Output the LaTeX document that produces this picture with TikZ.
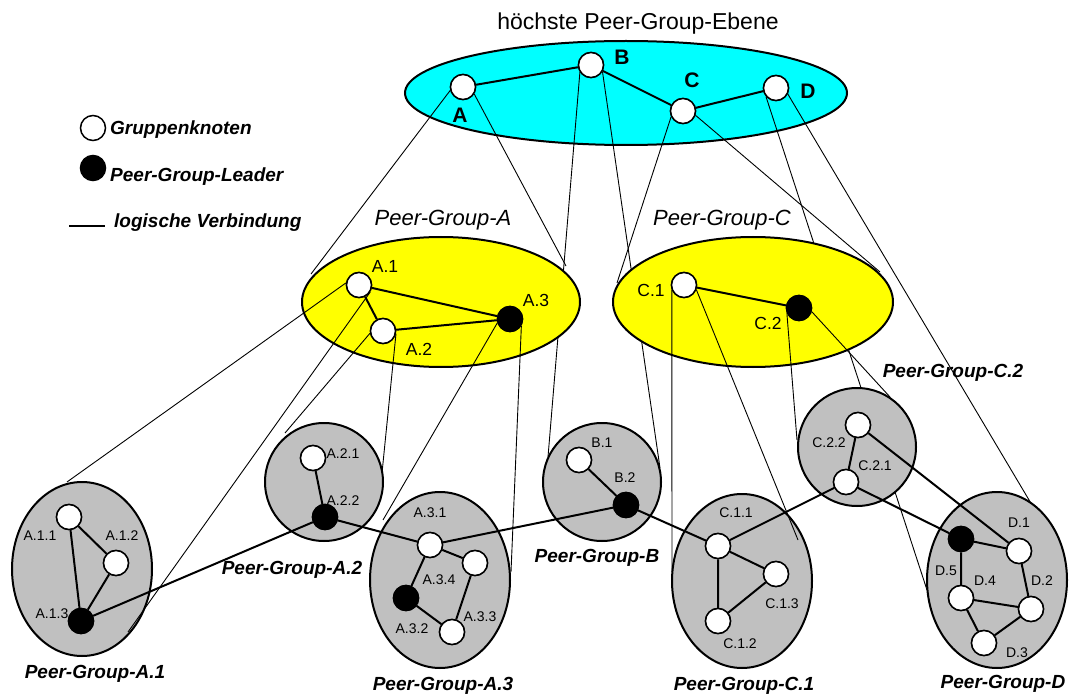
\documentclass[tikz,border=0pt]{standalone}
\usepackage{fontspec}
\setmainfont{Liberation Sans}
\usetikzlibrary{shapes.geometric}
\definecolor{cyanfill}{RGB}{0,255,255}
\definecolor{yelfill}{RGB}{255,255,0}
\definecolor{grayfill}{RGB}{192,192,192}
\pgfdeclarelayer{cyanL}
\pgfdeclarelayer{topL}
\pgfdeclarelayer{yelL}
\pgfdeclarelayer{grayL}
\pgfdeclarelayer{ylnL}
\pgfsetlayers{cyanL,topL,yelL,grayL,ylnL,main}
\begin{document}
\begin{tikzpicture}[x=1pt,y=-1pt,
  wn/.style={circle,draw,fill=white,line width=1.5pt,minimum size=25pt,inner sep=0pt},
  bn/.style={wn,fill=black},
  grp/.style={ellipse,draw,line width=2pt,inner sep=0pt},
  thinln/.style={line width=0.9pt},
  edge/.style={line width=2pt},
  ttl/.style={anchor=base,inner sep=0pt,font=\fontsize{23}{27}\selectfont},
  lbT/.style={anchor=base,inner sep=0pt,font=\fontsize{21}{25}\selectfont\bfseries},
  lbY/.style={anchor=base,inner sep=0pt,font=\fontsize{17.5}{21}\selectfont},
  lbYI/.style={anchor=base,inner sep=0pt,font=\fontsize{22}{26}\selectfont\itshape},
  lbG/.style={anchor=base,inner sep=0pt,font=\fontsize{14}{17}\selectfont},
  lbP/.style={anchor=base,inner sep=0pt,font=\fontsize{19}{23}\selectfont\bfseries\itshape},
  lbL/.style={lbP,anchor=base west}
]
\useasboundingbox (0,0) rectangle (1069,695);

% group ellipses
\begin{pgfonlayer}{cyanL}
\node[grp,fill=cyanfill,minimum width=442pt,minimum height=104pt] (eTop) at (626,93) {};
\end{pgfonlayer}
\begin{pgfonlayer}{yelL}
\node[grp,fill=yelfill,minimum width=278pt,minimum height=130pt] (eA) at (441,302) {};
\node[grp,fill=yelfill,minimum width=280pt,minimum height=130pt] (eC) at (753,302) {};
\end{pgfonlayer}
\begin{pgfonlayer}{grayL}
\node[grp,fill=grayfill,minimum width=140pt,minimum height=174pt] (gA1) at (82,569) {};
\node[grp,fill=grayfill,minimum width=118pt,minimum height=118pt] (gA2) at (324,482) {};
\node[grp,fill=grayfill,minimum width=140pt,minimum height=176pt] (gA3) at (440,580) {};
\node[grp,fill=grayfill,minimum width=118pt,minimum height=118pt] (gB) at (602,482) {};
\node[grp,fill=grayfill,minimum width=140pt,minimum height=174pt] (gC1) at (742,581) {};
\node[grp,fill=grayfill,minimum width=118pt,minimum height=118pt] (gC2) at (857,447) {};
\node[grp,fill=grayfill,minimum width=140pt,minimum height=176pt] (gD) at (997,580) {};
\end{pgfonlayer}

% nodes
\node[wn] (tA) at (463,87) {};
\node[wn] (tB) at (591,65) {};
\node[wn] (tC) at (683,111) {};
\node[wn] (tD) at (776,88) {};
\node[wn] (yA1) at (359,285) {};
\node[wn] (yA2) at (383,331) {};
\node[bn] (yA3) at (510,319) {};
\node[wn] (yC1) at (684,285) {};
\node[bn] (yC2) at (799,308) {};
\node[wn] (a11) at (69,517) {};
\node[wn] (a12) at (116,563) {};
\node[bn] (a13) at (81,621) {};
\node[wn] (a21) at (313,458) {};
\node[bn] (a22) at (325,517) {};
\node[wn] (a31) at (430,545) {};
\node[wn] (a34) at (475,563) {};
\node[bn] (a32) at (406,598) {};
\node[wn] (a33) at (452,632) {};
\node[wn] (b1) at (579,460) {};
\node[bn] (b2) at (626,505) {};
\node[wn] (c11) at (718,546) {};
\node[wn] (c13) at (776,574) {};
\node[wn] (c12) at (718,621) {};
\node[wn] (c22) at (858,425) {};
\node[wn] (c21) at (846,482) {};
\node[bn] (d5) at (961,539) {};
\node[wn] (d1) at (1019,551) {};
\node[wn] (d2) at (1031,609) {};
\node[wn] (d4) at (961,598) {};
\node[wn] (d3) at (984,643) {};
\node[wn] (leg1) at (93,128) {};
\node[bn] (leg2) at (93,168) {};

% tangent end points
\coordinate (tAl) at (311,274);
\coordinate (tAr) at (566,266);
\coordinate (tBl) at (548,457);
\coordinate (tBr) at (660,468);
\coordinate (tCl) at (617,283);
\coordinate (tCr) at (880,272);
\coordinate (tDl) at (927,590);
\coordinate (tDr) at (1032,505);
\coordinate (yA1l) at (67,482);
\coordinate (yA1r) at (128,632);
\coordinate (yA2l) at (285,433);
\coordinate (yA2r) at (382,473);
\coordinate (yA3l) at (383,520);
\coordinate (yA3r) at (511,572);
\coordinate (yC1l) at (672,572);
\coordinate (yC1r) at (798,540);
\coordinate (yC2l) at (797,440);
\coordinate (yC2r) at (890,397);
\coordinate (legL1) at (69,226);
\coordinate (legL2) at (105,226);

% projection lines from top level
\begin{pgfonlayer}{topL}
\draw[thinln] (tA.195) -- (tAl);
\draw[thinln] (tA.328) -- (tAr);
\draw[thinln] (tB.213) -- (tBl);
\draw[thinln] (tB.330) -- (tBr);
\draw[thinln] (tC.206) -- (tCl);
\draw[thinln] (tC.341) -- (tCr);
\draw[thinln] (tD.221) -- (tDl);
\draw[thinln] (tD.333) -- (tDr);
\end{pgfonlayer}
% projection lines from second level
\begin{pgfonlayer}{ylnL}
\draw[thinln] (yA1.171) -- (yA1l);
\draw[thinln] (yA1.328) -- (yA1r);
\draw[thinln] (yA2.190) -- (yA2l);
\draw[thinln] (yA2.349) -- (yA2r);
\draw[thinln] (yA3.197) -- (yA3l);
\draw[thinln] (yA3.329) -- (yA3r);
\draw[thinln] (yC1.203) -- (yC1l);
\draw[thinln] (yC1.339) -- (yC1r);
\draw[thinln] (yC2.204) -- (yC2l);
\draw[thinln] (yC2.344) -- (yC2r);
\end{pgfonlayer}

% logical connections
\draw[edge] (tA) -- (tB) -- (tC) -- (tD);
\draw[edge] (yA1) -- (yA3) -- (yA2) -- (yA1);
\draw[edge] (yC1) -- (yC2);
\draw[edge] (a11) -- (a12) -- (a13) -- (a11);
\draw[edge] (a21) -- (a22);
\draw[edge] (a31) -- (a34) -- (a33) -- (a32) -- (a31);
\draw[edge] (b1) -- (b2);
\draw[edge] (c11) -- (c13) -- (c12) -- (c11);
\draw[edge] (c22) -- (c21);
\draw[edge] (d5) -- (d1) -- (d2) -- (d3) -- (d4) -- (d5);
\draw[edge] (d4) -- (d2);
\draw[edge] (a13) -- (a22) -- (a31) -- (b2) -- (c11) -- (c21) -- (d5);
\draw[edge] (c22) -- (d1);
\draw[line width=1.5pt] (legL1) -- (legL2);
% redraw nodes on top of edges
\foreach \n in {tA,tB,tC,tD,yA1,yA2,yC1,a11,a12,a21,a31,a34,a33,b1,c11,c13,c12,c22,c21,d1,d2,d4,d3}
  {\node[wn] at (\n.center) {};}
\foreach \n in {yA3,yC2,a13,a22,a32,b2,d5}
  {\node[bn] at (\n.center) {};}

% texts
\node[ttl] (title) at (638,30) {höchste Peer-Group-Ebene};
\node[lbT] (lA) at (460,123) {A};
\node[lbT] (lB) at (622,65) {B};
\node[lbT] (lC) at (692,88) {C};
\node[lbT] (lD) at (808,99) {D};
\node[lbL] (lg1) at (110,135) {Gruppenknoten};
\node[lbL] (lg2) at (110,182) {Peer-Group-Leader};
\node[lbL] (lg3) at (114,228) {logische Verbindung};
\node[lbYI] (pgA) at (443,226) {Peer-Group-A};
\node[lbYI] (pgC) at (722,226) {Peer-Group-C};
\node[lbY] at (385,273) {A.1};
\node[lbY] at (419,355) {A.2};
\node[lbY] at (536,307) {A.3};
\node[lbY] at (651,297) {C.1};
\node[lbY] at (768,330) {C.2};
\node[lbG] at (40,540) {A.1.1};
\node[lbG] at (122,540) {A.1.2};
\node[lbG] at (52,618) {A.1.3};
\node[lbG] at (343,458) {A.2.1};
\node[lbG] at (343,505) {A.2.2};
\node[lbG] at (430,517) {A.3.1};
\node[lbG] at (439,584) {A.3.4};
\node[lbG] at (412,633) {A.3.2};
\node[lbG] at (480,621) {A.3.3};
\node[lbG] at (602,447) {B.1};
\node[lbG] at (625,482) {B.2};
\node[lbG] at (736,517) {C.1.1};
\node[lbG] at (782,608) {C.1.3};
\node[lbG] at (740,648) {C.1.2};
\node[lbG] at (829,447) {C.2.2};
\node[lbG] at (875,470) {C.2.1};
\node[lbG] at (1019,527) {D.1};
\node[lbG] at (946,575) {D.5};
\node[lbG] at (985,585) {D.4};
\node[lbG] at (1042,585) {D.2};
\node[lbG] at (1017,657) {D.3};
\node[lbP] at (95,678) {Peer-Group-A.1};
\node[lbP] at (292,574) {Peer-Group-A.2};
\node[lbP] at (443,690) {Peer-Group-A.3};
\node[lbP] at (597,562) {Peer-Group-B};
\node[lbP] at (744,690) {Peer-Group-C.1};
\node[lbP] at (953,377) {Peer-Group-C.2};
\node[lbP] at (1003,688) {Peer-Group-D};
\end{tikzpicture}
\end{document}
